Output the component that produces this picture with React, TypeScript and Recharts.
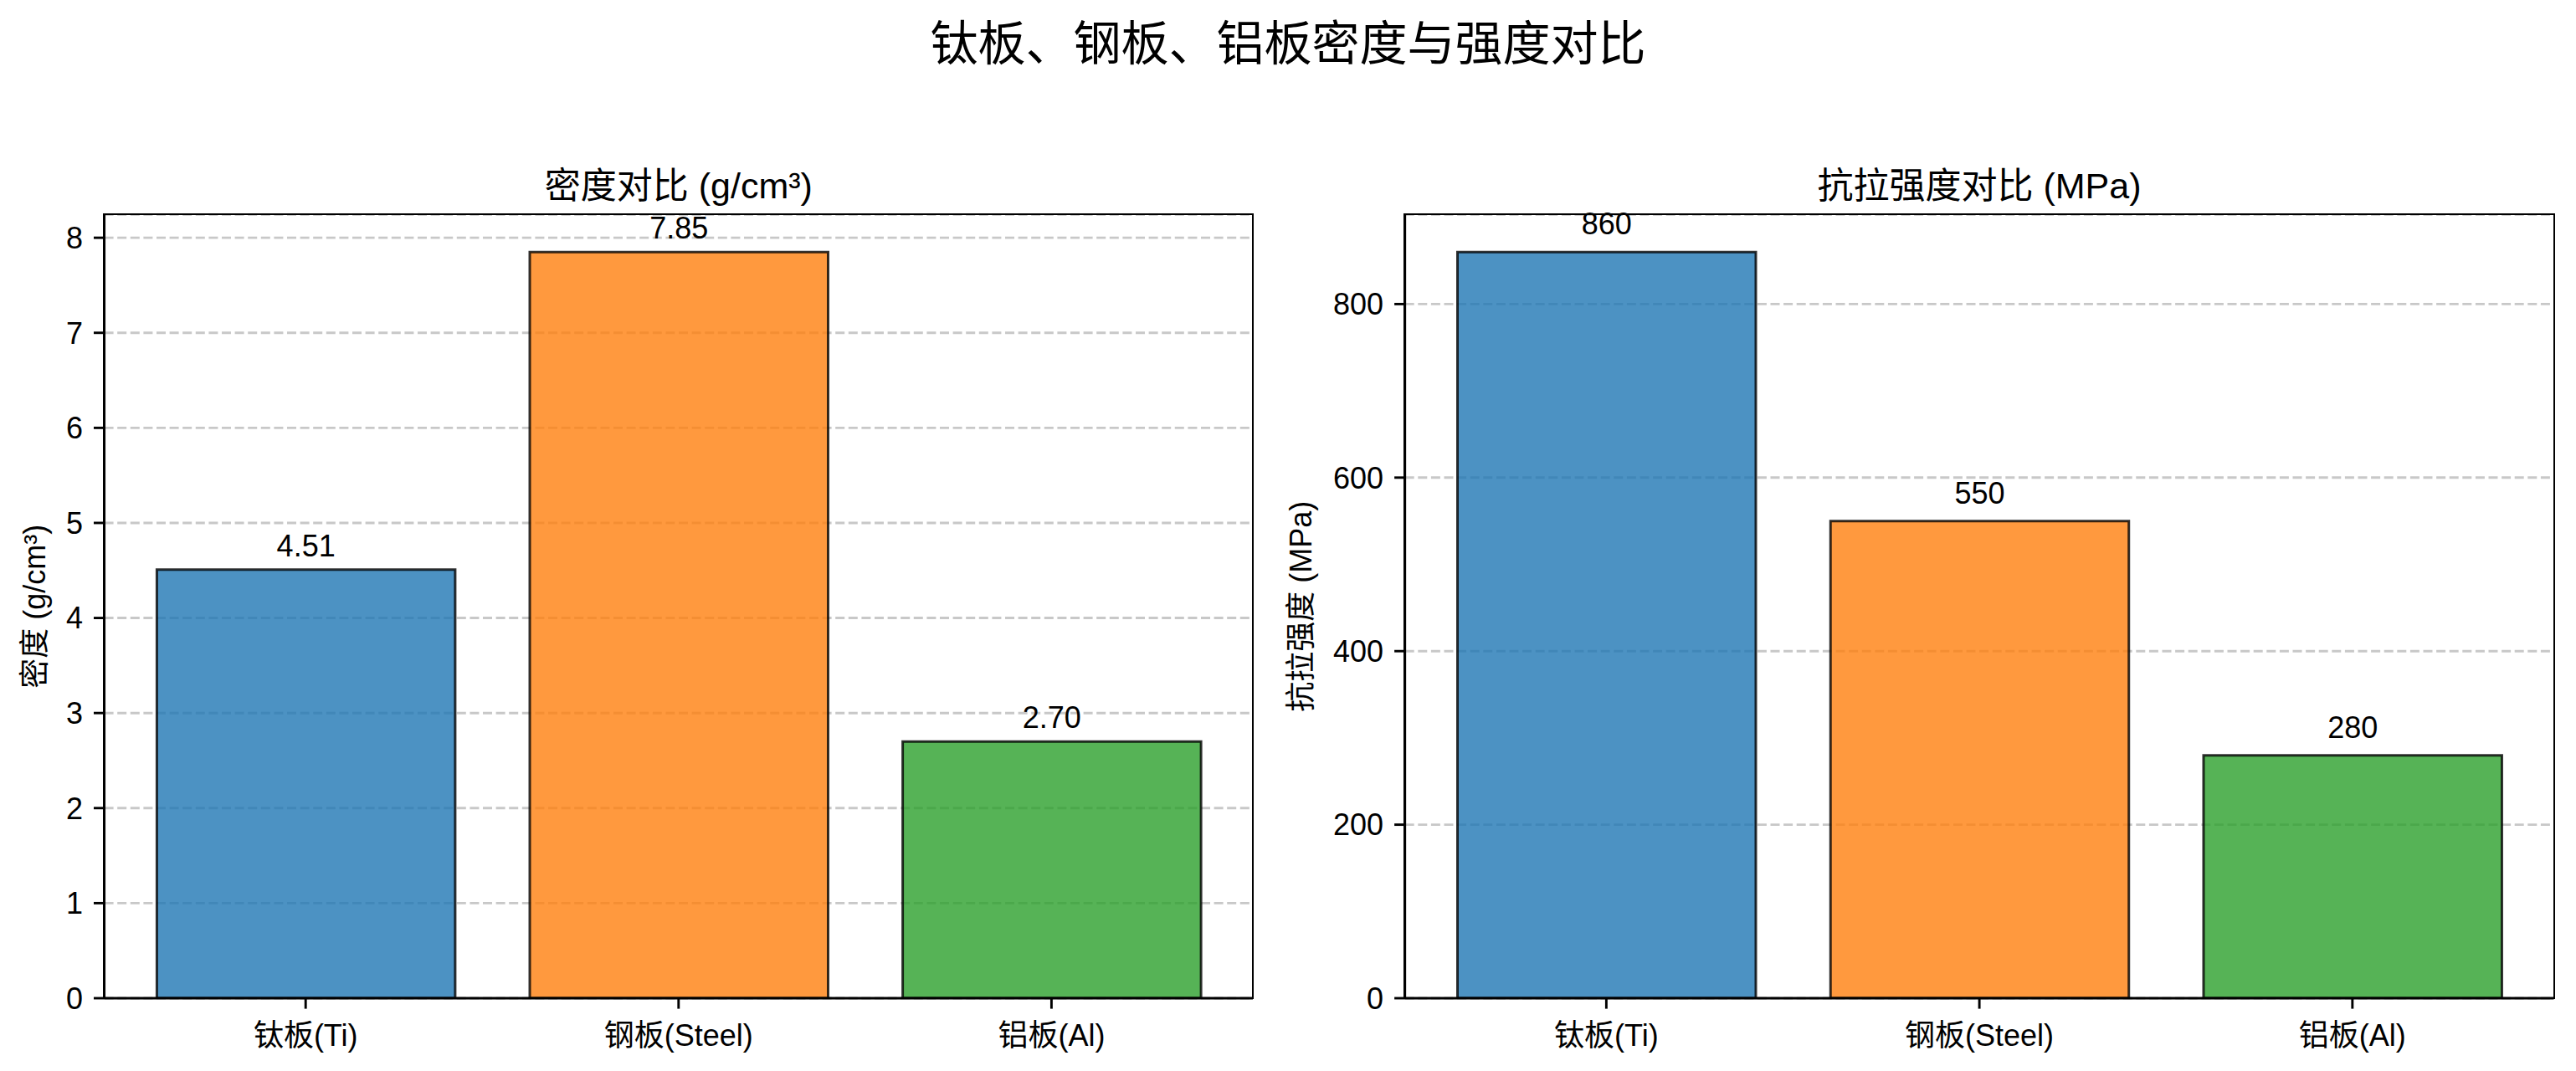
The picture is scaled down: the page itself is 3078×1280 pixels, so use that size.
import React from "react";
import { BarChart, Bar, XAxis, YAxis, CartesianGrid, Cell, LabelList } from "recharts";

// values
const materials = ["钛板(Ti)", "钢板(Steel)", "铝板(Al)"];
const densities = [4.51, 7.85, 2.7];
const strengths = [860, 550, 280];
const barColors = ["#1f77b4", "#ff7f0e", "#2ca02c"];
const densityTicks = [0, 1, 2, 3, 4, 5, 6, 7, 8];
const strengthTicks = [0, 200, 400, 600, 800];

const FONT = "'Liberation Sans', Arial, 'Noto Sans CJK SC', sans-serif";
const W = 1539;
const H = 1280;
const LINE = 2.9;
const TOP = 256.6;
const BOTTOM = 27;
const X_AXIS_H = 60;
const Y_AXIS_W = 100;

const densityData = materials.map((name, i) => ({ name, value: densities[i] }));
const strengthData = materials.map((name, i) => ({ name, value: strengths[i] }));

type PanelProps = {
  data: { name: string; value: number }[];
  domain: [number, number];
  ticks: number[];
  decimals: number;
  labelOffset: number;
  left: number;
  right: number;
};

function Panel({ data, domain, ticks, decimals, labelOffset, left, right }: PanelProps) {
  const tickStyle = { fill: "#000", fontSize: 36, fontFamily: FONT };
  const axisLine = { stroke: "#000", strokeWidth: LINE };
  // frame around the plot area (matplotlib draws all four spines)
  const plotLeft = left + Y_AXIS_W;
  const plotW = W - right - plotLeft;
  const plotH = H - BOTTOM - X_AXIS_H - TOP;
  return (
    <div style={{ position: "relative", width: W, height: H }}>
      <BarChart
        width={W}
        height={H}
        data={data}
        margin={{ top: TOP, right, bottom: BOTTOM, left }}
      >
        <CartesianGrid
          vertical={false}
          stroke="#b0b0b0"
          strokeOpacity={0.7}
          strokeWidth={LINE}
          strokeDasharray="11 4.6"
        />
        <XAxis
          dataKey="name"
          height={X_AXIS_H}
          padding={{ left: 17.8, right: 17.8 }}
          axisLine={axisLine}
          tickLine={axisLine}
          tickSize={12.6}
          tickMargin={19}
          tick={tickStyle}
          interval={0}
        />
        <YAxis
          type="number"
          domain={domain}
          ticks={ticks}
          width={Y_AXIS_W}
          axisLine={axisLine}
          tickLine={axisLine}
          tickSize={12.6}
          tickMargin={13}
          tick={tickStyle}
          allowDataOverflow
        />
        <Bar dataKey="value" barSize={356.5} isAnimationActive={false}>
          {data.map((d, i) => (
            <Cell
              key={d.name}
              fill={barColors[i]}
              fillOpacity={0.8}
              stroke="#000"
              strokeOpacity={0.8}
              strokeWidth={3}
            />
          ))}
          <LabelList
            dataKey="value"
            position="top"
            offset={labelOffset}
            formatter={(v: any) => Number(v).toFixed(decimals)}
            fill="#000"
            fontSize={36}
            fontFamily={FONT}
          />
        </Bar>
      </BarChart>
      <div
        style={{
          position: "absolute",
          left: plotLeft - LINE / 2,
          top: TOP - LINE / 2,
          width: plotW + LINE,
          height: plotH + LINE,
          border: `${LINE}px solid #000`,
          boxSizing: "border-box",
          pointerEvents: "none",
        }}
      />
    </div>
  );
}

export default function App() {
  return (
    <div
      style={{
        position: "absolute",
        left: 0,
        top: 0,
        width: 3078,
        height: 1280,
        background: "#fff",
        fontFamily: FONT,
      }}
    >
      <div style={{ position: "absolute", left: 0, top: 0 }}>
        <Panel
          data={densityData}
          domain={[0, 8.2425]}
          ticks={densityTicks}
          decimals={2}
          labelOffset={16}
          left={24.6}
          right={42}
        />
      </div>
      <div style={{ position: "absolute", left: W, top: 0 }}>
        <Panel
          data={strengthData}
          domain={[0, 903]}
          ticks={strengthTicks}
          decimals={0}
          labelOffset={21}
          left={39.7}
          right={26.5}
        />
      </div>
      <svg
        width={3078}
        height={1280}
        style={{ position: "absolute", left: 0, top: 0, pointerEvents: "none" }}
        fontFamily={FONT}
      >
        <text x={1539} y={72} textAnchor="middle" fontSize={57} fill="#000">
          钛板、钢板、铝板密度与强度对比
        </text>
        <text x={810.8} y={237} textAnchor="middle" fontSize={43} fill="#000">
          密度对比 (g/cm³)
        </text>
        <text x={2365} y={237} textAnchor="middle" fontSize={43} fill="#000">
          抗拉强度对比 (MPa)
        </text>
        <text
          transform="translate(54, 724.8) rotate(-90)"
          textAnchor="middle"
          fontSize={36}
          fill="#000"
        >
          密度 (g/cm³)
        </text>
        <text
          transform="translate(1567, 724.8) rotate(-90)"
          textAnchor="middle"
          fontSize={36}
          fill="#000"
        >
          抗拉强度 (MPa)
        </text>
      </svg>
    </div>
  );
}
